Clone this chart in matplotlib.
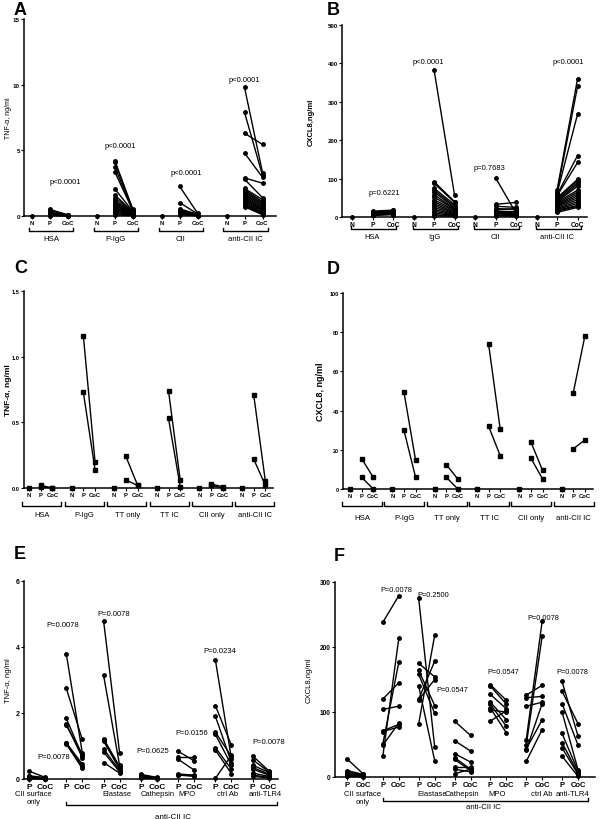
import numpy as np
import matplotlib
matplotlib.use('Agg')
import matplotlib.pyplot as plt
import matplotlib.transforms as mtransforms

plt.rcParams['font.family'] = ['Liberation Sans', 'DejaVu Sans']

# ---- A: TNF-a after N / P / CoC, four stimuli ----
A_groups = ['HSA', 'P-IgG', 'CII', 'anti-CII IC']
A_pvals = ['p<0.0001', 'p<0.0001', 'p<0.0001', 'p<0.0001']
A_P = [
    [0.5, 0.42, 0.3, 0.22, 0.15, 0.1, 0.06, 0.03],
    [4.2, 4.08, 3.7, 3.35, 2.05, 1.6, 1.4, 1.2, 1.1, 1.0, 0.9, 0.8, 0.7, 0.6, 0.5, 0.4, 0.3, 0.2, 0.1],
    [2.25, 1.02, 0.55, 0.45, 0.38, 0.3, 0.25, 0.2, 0.15, 0.1],
    [9.8, 7.9, 6.3, 4.8, 2.9, 2.8, 2.1, 2.0, 1.9, 1.8, 1.7, 1.6, 1.5, 1.4, 1.3, 1.2, 1.1, 1.0, 0.9, 0.8, 0.7],
]
A_CoC = [
    [0.08, 0.06, 0.05, 0.04, 0.03, 0.02, 0.01, 0.0],
    [0.5, 0.45, 0.42, 0.4, 0.35, 0.3, 0.28, 0.25, 0.22, 0.2, 0.18, 0.15, 0.12, 0.1, 0.08, 0.06, 0.05, 0.03, 0.02],
    [0.2, 0.15, 0.12, 0.1, 0.08, 0.06, 0.05, 0.04, 0.03, 0.02],
    [3.3, 3.1, 5.45, 2.95, 2.5, 1.4, 1.25, 1.1, 1.0, 0.9, 0.8, 0.7, 0.6, 0.5, 0.45, 0.4, 0.3, 0.25, 0.2, 0.15, 0.1],
]

# ---- B: CXCL8 after N / P / CoC ----
B_groups = ['HSA', 'IgG', 'CII', 'anti-CII IC']
B_pvals = ['p=0.6221', 'p<0.0001', 'p=0.7683', 'p<0.0001']
B_P = [
    [15, 13, 11, 10, 8, 7, 6, 5, 4],
    [383, 92, 88, 75, 70, 65, 58, 52, 45, 40, 35, 30, 25, 20, 15, 10, 6, 3],
    [102, 33, 28, 22, 18, 15, 12, 10, 8, 5, 3],
    [70, 65, 62, 58, 55, 50, 48, 45, 42, 40, 38, 35, 32, 30, 28, 25, 22, 20, 18, 15, 12],
]
B_CoC = [
    [18, 17, 15, 13, 12, 10, 9, 8, 6],
    [57, 40, 38, 32, 28, 25, 22, 20, 18, 15, 12, 10, 8, 6, 5, 4, 3, 2],
    [10, 38, 25, 20, 22, 15, 12, 8, 6, 4, 2],
    [360, 340, 268, 160, 142, 98, 95, 90, 85, 80, 70, 65, 60, 55, 50, 45, 40, 35, 30, 28, 25],
]

# ---- C / D: two donors, six stimuli ----
CD_groups = ['HSA', 'P-IgG', 'TT only', 'TT IC', 'CII only', 'anti-CII IC']
C_P = [[0.02, 0.01], [1.16, 0.73], [0.24, 0.06], [0.74, 0.53], [0.03, 0.02], [0.71, 0.22]]
C_CoC = [[0.0, 0.0], [0.2, 0.14], [0.02, 0.02], [0.06, 0.01], [0.01, 0.0], [0.05, 0.02]]
D_P = [[15.5, 6], [49.5, 30], [12.5, 6], [74, 32], [24, 15.7], [49, 20.5]]
D_CoC = [[6, 0], [14.8, 6], [5, 0], [30.5, 17], [9.5, 5.2], [78, 25]]

# ---- E / F: inhibitors, P / CoC ----
EF_groups = ['CII surface\nonly', '', 'Elastase', 'Cathepsin', 'MPO', 'ctrl Ab', 'anti-TLR4']
E_pvals = ['P=0.0078', 'P=0.0078', 'P=0.0078', 'P=0.0625', 'P=0.0156', 'P=0.0234', 'P=0.0078']
E_P = [
    [0.24, 0.1, 0.08, 0.06, 0.04, 0.03, 0.02, 0.01],
    [3.8, 2.75, 1.84, 1.67, 1.63, 1.1, 1.08, 1.06],
    [4.8, 3.15, 1.22, 1.18, 1.15, 0.92, 0.82, 0.5],
    [0.14, 0.12, 0.1, 0.06, 0.03],
    [0.84, 0.66, 0.6, 0.15, 0.13, 0.12],
    [3.6, 2.22, 1.9, 1.42, 1.35, 0.95, 0.88, 0.02],
    [0.7, 0.58, 0.42, 0.35, 0.3, 0.18, 0.12, 0.08],
]
E_CoC = [
    [0.05, 0.04, 0.03, 0.03, 0.02, 0.01, 0.01, 0.0],
    [0.8, 1.2, 0.7, 0.65, 0.75, 0.45, 0.38, 0.32],
    [0.8, 0.42, 0.38, 0.35, 0.3, 0.25, 0.22, 0.18],
    [0.05, 0.04, 0.03, 0.02, 0.01],
    [0.55, 0.66, 0.27, 0.12, 0.1, 0.08],
    [0.62, 1.02, 0.5, 0.68, 0.42, 0.3, 0.16, 0.72],
    [0.25, 0.22, 0.2, 0.15, 0.12, 0.08, 0.05, 0.03],
]
F_pvals = ['', 'P=0.0078', 'P=0.2500', 'P=0.0547', 'P=0.0547', 'P=0.0078', 'P=0.0078']
F_P = [
    [28, 10, 8, 6, 5, 3, 2, 1],
    [238, 120, 104, 71, 70, 51, 49, 32],
    [275, 175, 164, 158, 140, 120, 119, 82],
    [86, 56, 36, 30, 27, 15, 12, 5],
    [142, 140, 127, 115, 112, 106, 103, 86],
    [126, 122, 109, 57, 49, 43, 41, 24],
    [147, 132, 113, 100, 67, 53, 45, 32],
]
F_CoC = [
    [5, 4, 3, 2, 2, 1, 1, 0],
    [279, 145, 109, 81, 77, 177, 83, 214],
    [46, 154, 110, 98, 25, 178, 150, 218],
    [64, 40, 23, 12, 10, 15, 8, 12],
    [118, 112, 105, 88, 78, 68, 100, 102],
    [141, 124, 115, 240, 217, 88, 113, 73],
    [63, 82, 49, 11, 9, 6, 4, 1],
]

fig = plt.figure(figsize=(6, 8.2), dpi=100)


def px_axes(l, t, r, b):
    # axes box given in pixels of the 600x820 image
    return fig.add_axes([l / 600, 1 - b / 820, (r - l) / 600, (b - t) / 820])


def style(ax, ylim, yticks, yticklabels, ysize, ylabel, lsize, lbold, lx):
    for s in ['top', 'right']:
        ax.spines[s].set_visible(False)
    for s in ['left', 'bottom']:
        ax.spines[s].set_linewidth(1.1)
    ax.set_ylim(*ylim)
    ax.set_yticks(yticks)
    ax.set_yticklabels(yticklabels, fontsize=ysize, fontweight='bold')
    ax.tick_params(axis='both', length=2, width=0.8, pad=1)
    ax.set_ylabel(ylabel, fontsize=lsize, fontweight='bold' if lbold else 'normal')
    ax.yaxis.set_label_coords(lx, 0.5)


def bracket(ax, x0, x1, y, h=0.015):
    tr = mtransforms.blended_transform_factory(ax.transData, ax.transAxes)
    ax.plot([x0, x0, x1, x1], [y + h, y, y, y + h], color='k', lw=1.0,
            transform=tr, clip_on=False)


def below(ax, x, y, s, size, va='center'):
    tr = mtransforms.blended_transform_factory(ax.transData, ax.transAxes)
    ax.text(x, y, s, transform=tr, ha='center', va=va, fontsize=size, linespacing=1.1)


def draw_npc(ax, P, CoC, sp, marker, ms):
    for g in range(len(P)):
        base = g * sp
        ax.plot([base], [0], marker=marker, ms=ms, color='k', clip_on=False, zorder=3)
        for p, c in zip(P[g], CoC[g]):
            ax.plot([base + 1, base + 2], [p, c], color='k', lw=1.0, marker=marker,
                    ms=ms, clip_on=False, zorder=3)
    ticks = [g * sp + k for g in range(len(P)) for k in range(3)]
    return ticks


def draw_pc(ax, P, CoC, sp, ms):
    for g in range(len(P)):
        base = g * sp
        for p, c in zip(P[g], CoC[g]):
            ax.plot([base, base + 1], [p, c], color='k', lw=1.0, marker='o',
                    ms=ms, clip_on=False, zorder=3)
    ticks = [g * sp + k for g in range(len(P)) for k in range(2)]
    return ticks


def letter(x, y, s):
    fig.text(x / 600, 1 - y / 820, s, fontsize=13, fontweight='bold', va='top', ha='left')


# ---------------- A ----------------
ax = px_axes(24, 20, 276, 217)
sp = 3.6
ticks = draw_npc(ax, A_P, A_CoC, sp, 'o', 2.5)
ax.set_xlim(-0.45, 13.55)
ax.set_xticks(ticks, ['N', 'P', 'CoC'] * 4, fontsize=4.3, fontweight='bold')
style(ax, (0, 15), [0, 5, 10, 15], ['0', '5', '10', '15'], 4.5, 'TNF-α, ng/ml', 5, False, -0.048)
for g, (x, y) in enumerate([(1.83, 2.6), (1.3, 5.4), (1.35, 3.35), (1.0, 10.4)]):
    ax.text(g * sp + x, y, A_pvals[g], ha='center', va='center', fontsize=5.5)
for g, name in enumerate(A_groups):
    bracket(ax, g * sp - 0.17, g * sp + 2.28, -0.076)
    below(ax, g * sp + 1.05, -0.112, name, 5.6)
letter(14, 2, 'A')

# ---------------- B ----------------
ax = px_axes(342, 26, 587, 218)
sp = 3.0
ticks = draw_npc(ax, B_P, B_CoC, sp, 'o', 2.5)
ax.set_xlim(-0.49, 11.46)
ax.set_xticks(ticks, ['N', 'P', 'CoC'] * 4, fontsize=4.8, fontweight='bold')
style(ax, (0, 500), [0, 100, 200, 300, 400, 500], ['0', '100', '200', '300', '400', '500'],
      4.4, 'CXCL8,ng/ml', 5.5, True, -0.11)
for g, (x, y) in enumerate([(1.56, 65), (0.7, 406), (0.68, 130), (1.54, 406)]):
    ax.text(g * sp + x, y, B_pvals[g], ha='center', va='center', fontsize=5.4)
for g, name in enumerate(B_groups):
    bracket(ax, g * sp - 0.05, g * sp + 2.15, -0.0625)
    below(ax, g * sp + 1.0, -0.099, name, 5.4)
letter(327, 2, 'B')

# ---------------- C ----------------
ax = px_axes(24, 292, 273, 489)
sp = 3.64
ticks = draw_npc(ax, C_P, C_CoC, sp, 's', 2.8)
ax.set_xlim(-0.43, 20.85)
ax.set_xticks(ticks, ['N', 'P', 'CoC'] * 6, fontsize=4.2, fontweight='bold')
style(ax, (0, 1.5), [0, 0.5, 1.0, 1.5], ['0.0', '0.5', '1.0', '1.5'], 4.1,
      'TNF-α, ng/ml', 6, True, -0.048)
for g, name in enumerate(CD_groups):
    bracket(ax, g * sp - 0.6, g * sp + 2.75, -0.091, 0.02)
    below(ax, g * sp + 1.1, -0.137, name, 5.4)
letter(14, 260, 'C')

# ---------------- D ----------------
ax = px_axes(343, 294, 593, 490)
sp = 3.64
ticks = draw_npc(ax, D_P, D_CoC, sp, 's', 2.8)
ax.set_xlim(-0.6, 20.9)
ax.set_xticks(ticks, ['N', 'P', 'CoC'] * 6, fontsize=4.2, fontweight='bold')
style(ax, (0, 100), [0, 20, 40, 60, 80, 100], ['0', '20', '40', '60', '80', '100'], 4.0,
      'CXCL8, ng/ml', 6.5, True, -0.072)
for g, name in enumerate(CD_groups):
    bracket(ax, g * sp - 0.69, g * sp + 2.75, -0.087, 0.02)
    below(ax, g * sp + 1.05, -0.143, name, 5.6)
letter(327, 261, 'D')

# ---------------- E ----------------
ax = px_axes(24, 582, 278, 780)
sp = 2.33
ticks = draw_pc(ax, E_P, E_CoC, sp, 2.5)
ax.set_xlim(-0.31, 15.56)
ax.set_xticks(ticks, ['P', 'CoC'] * 7, fontsize=6, fontweight='bold')
style(ax, (0, 6), [0, 2, 4, 6], ['0', '2', '4', '6'], 5, 'TNF-α, ng/ml', 5.5, False, -0.047)
E_ppos = [(1.56, 0.67), (2.1, 4.67), (5.3, 5.0), (7.75, 0.85), (10.2, 1.42), (11.9, 3.9), (15.0, 1.15)]
for g, (x, y) in enumerate(E_ppos):
    ax.text(x, y, E_pvals[g], ha='center', va='center', fontsize=5.5)
for x, name in zip([0.3, 0, 5.5, 8.06, 9.9, 12.4, 14.75], EF_groups):
    below(ax, x, -0.058, name, 5.4, va='top')
bracket(ax, sp, 15.5, -0.131)
below(ax, 9.0, -0.187, 'anti-CII IC', 5.8)
letter(14, 546, 'E')

# ---------------- F ----------------
ax = px_axes(335, 583, 595, 778)
sp = 2.24
ticks = draw_pc(ax, F_P, F_CoC, sp, 2.5)
ax.set_xlim(-0.75, 15.5)
ax.set_xticks(ticks, ['P', 'CoC'] * 7, fontsize=5.5, fontweight='bold')
style(ax, (0, 300), [0, 100, 200, 300], ['0', '100', '200', '300'], 4.7,
      'CXCL8,ng/ml', 5.5, False, -0.085)
F_ppos = [(0, 0), (3.1, 289), (5.4, 280), (6.6, 135), (9.75, 162), (12.3, 246), (14.1, 162)]
for g, (x, y) in enumerate(F_ppos):
    if F_pvals[g]:
        ax.text(x, y, F_pvals[g], ha='center', va='center', fontsize=5.3)
for x, name in zip([1.0, 0, 5.3, 7.2, 9.4, 12.2, 14.1], EF_groups):
    below(ax, x, -0.068, name, 5.5, va='top')
bracket(ax, sp, 15.06, -0.123)
below(ax, 8.5, -0.15, 'anti-CII IC', 5.6)
letter(334, 548, 'F')

fig.savefig('out.png', dpi=100)
